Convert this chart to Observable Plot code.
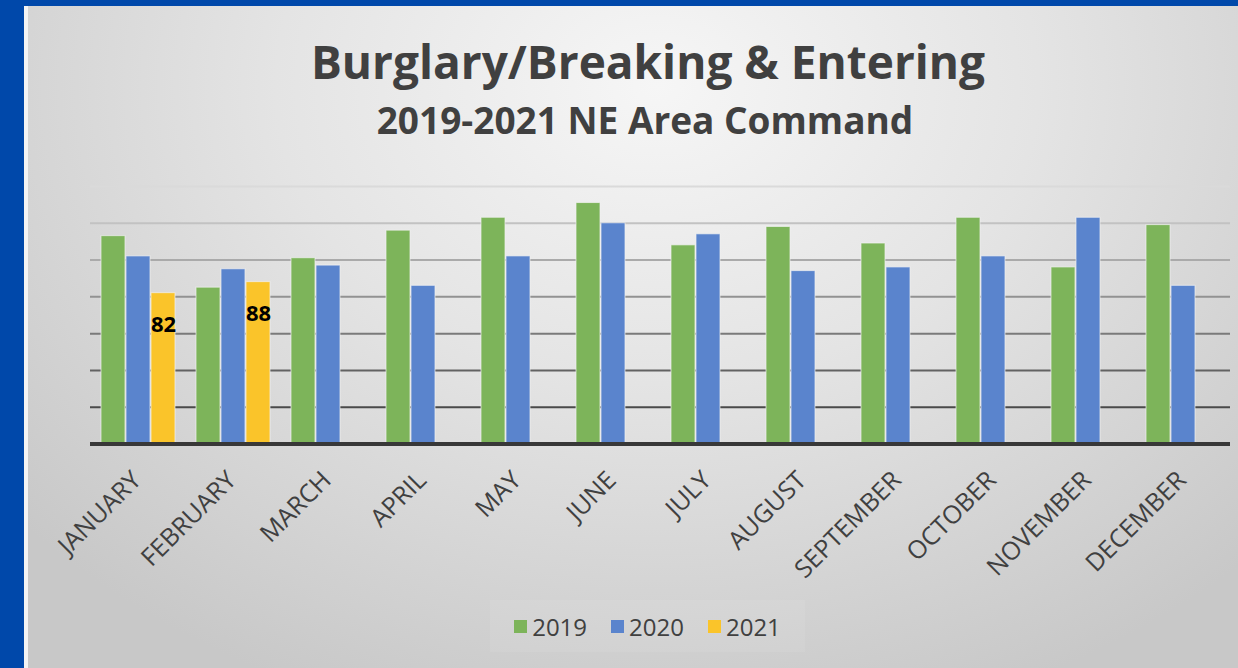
<!DOCTYPE html>
<html>
<head>
<meta charset="utf-8">
<script src="https://cdn.jsdelivr.net/npm/d3@7"></script>
<script src="https://cdn.jsdelivr.net/npm/@observablehq/plot@0.6"></script>
<style>
  html, body { margin: 0; padding: 0; width: 1238px; height: 668px; overflow: hidden; background: #0048aa; }
  #strip { position: absolute; left: 24px; top: 6px; width: 4px; height: 662px; background: #f4f4f4; }
  #panel { position: absolute; left: 28px; top: 6px; width: 1210px; height: 662px; overflow: hidden;
    background: radial-gradient(ellipse 70% 100% at 52% 12%, #f6f6f6 0%, #e4e4e4 45%, #c8c8c8 100%);
    font-family: "Open Sans", sans-serif; color: #404040; }
  #title { position: absolute; left: 0; width: 1240px; top: 32px; text-align: center; font-weight: 700; font-size: 46px; line-height: 46px; }
  #subtitle { position: absolute; left: 0; width: 1234px; top: 95px; text-align: center; font-weight: 700; font-size: 37px; line-height: 37px; }
  #chart { position: absolute; left: 0; top: 150px; }
  #legend { position: absolute; left: 462px; width: 315px; top: 594px; height: 52px; display: flex; justify-content: center; align-items: center; gap: 24px;
    background: rgba(255,255,255,0.07); font-size: 24px; }
  .item { display: flex; align-items: center; gap: 5px; }
  .sw { width: 13px; height: 13px; display: inline-block; }
</style>
</head>
<body>
<div id="strip"></div>
<div id="panel">
  <div id="title">Burglary/Breaking &amp; Entering</div>
  <div id="subtitle">2019-2021 NE Area Command</div>
  <div id="chart"></div>
  <div id="legend"></div>
</div>
<script>
const months = ["JANUARY","FEBRUARY","MARCH","APRIL","MAY","JUNE","JULY","AUGUST","SEPTEMBER","OCTOBER","NOVEMBER","DECEMBER"];
const years = ["2019","2020","2021"];
const v2019 = [113, 85, 101, 116, 123, 131, 108, 118, 109, 123, 96, 119];
const v2020 = [102, 95, 97, 86, 102, 120, 114, 94, 96, 102, 123, 86];
const v2021 = [82, 88];
const gridValues = [20, 40, 60, 80, 100, 120, 140];
const colors = ["#7db45a", "#5a84cd", "#fac42a"];

const data = [];
months.forEach((m, i) => {
  data.push({month: m, year: "2019", value: v2019[i]});
  data.push({month: m, year: "2020", value: v2020[i]});
  if (i < v2021.length) data.push({month: m, year: "2021", value: v2021[i]});
});
const labels = data.filter(d => d.year === "2021");
const gridColor = v => d3.interpolateRgb("#4a4a4a", "#dadada")((v - 20) / 120);

const chart = Plot.plot({
  width: 1210, height: 440,
  marginLeft: 60, marginRight: 6, marginTop: 30, marginBottom: 152.5,
  style: {background: "transparent", fontFamily: "Open Sans, sans-serif", overflow: "visible"},
  fx: {domain: months, padding: 0, label: null},
  x: {domain: years, axis: null, paddingInner: 0.06, paddingOuter: 0.367},
  y: {domain: [0, 140], axis: null},
  color: {domain: years, range: colors},
  marks: [
    ...gridValues.map(v => Plot.ruleY([v], {stroke: gridColor(v), strokeWidth: 2})),
    Plot.barY(data, {fx: "month", x: "year", y: "value", fill: "year", stroke: "#f2f2f2", strokeOpacity: 0.7, strokeWidth: 1}),
    Plot.text(labels, {fx: "month", x: "year", y: "value", text: d => String(d.value), dy: 32, fontWeight: "bold", fontSize: 22, fill: "#000"}),
    Plot.ruleY([0], {stroke: "#383838", strokeWidth: 4}),
    Plot.axisFx({anchor: "bottom", tickRotate: -45, tickSize: 0, tickPadding: 32, fontSize: 25, dx: -1, color: "#404040", label: null})
  ]
});
document.getElementById("chart").appendChild(chart);

const legend = document.getElementById("legend");
years.forEach((y, i) => {
  const it = document.createElement("div");
  it.className = "item";
  it.innerHTML = `<span class="sw" style="background:${colors[i]}"></span><span>${y}</span>`;
  legend.appendChild(it);
});
</script>
</body>
</html>
